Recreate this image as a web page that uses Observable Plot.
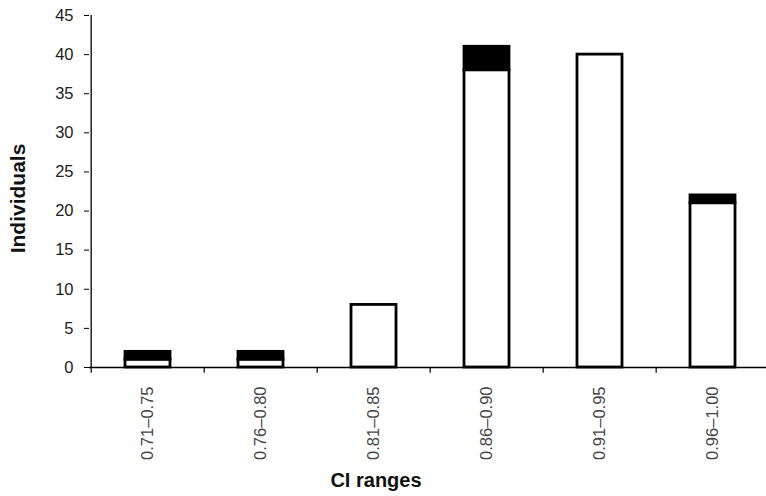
<!DOCTYPE html>
<html>
<head>
<meta charset="utf-8">
<script src="https://cdn.jsdelivr.net/npm/d3@7"></script>
<script src="https://cdn.jsdelivr.net/npm/@observablehq/plot@0.6"></script>
<style>
  html, body { margin: 0; padding: 0; background: #fff; overflow: hidden; }
  #chart { width: 766px; height: 496px; overflow: hidden; }
  svg { overflow: visible; font-family: "Liberation Sans", Arial, sans-serif; }
</style>
</head>
<body>
<div id="chart"></div>
<script>
const categories = ["0.71–0.75", "0.76–0.80", "0.81–0.85", "0.86–0.90", "0.91–0.95", "0.96–1.00"];
const whiteValues = [1, 1, 8, 38, 40, 21];
const blackValues = [1, 1, 0, 3, 0, 1];
const yTicks = [0, 5, 10, 15, 20, 25, 30, 35, 40, 45];
const xTitle = "CI ranges";
const yTitle = "Individuals";

const rows = [];
categories.forEach((c, i) => {
  if (whiteValues[i] > 0) rows.push({range: c, part: "white", value: whiteValues[i]});
  if (blackValues[i] > 0) rows.push({range: c, part: "black", value: blackValues[i]});
});

const left = 89, right = 771;
const bw = (right - left) / categories.length;

const chart = Plot.plot({
  width: 766,
  height: 496,
  marginLeft: left,
  marginRight: 0,
  marginTop: 15,
  marginBottom: 129,
  style: {fontFamily: "Liberation Sans, Arial, sans-serif", background: "white"},
  x: {domain: categories, range: [left, right], paddingInner: 0.6, paddingOuter: 0.3, align: 0.5},
  y: {domain: [0, 45]},
  color: {type: "identity"},
  marks: [
    Plot.barY(rows, {x: "range", y: "value", fill: "part", stroke: "black", strokeWidth: 2.8}),
    Plot.axisY({ticks: yTicks, tickSize: 5, tickPadding: 11, fontSize: 16.5, fill: "#222", label: null}),
    Plot.axisX({tickSize: 0, tickRotate: -90, tickPadding: 19, fontSize: 16.5, fill: "#444", label: null}),
    // y axis line
    Plot.ruleX([categories[0]], {dx: -bw / 2, y1: 0, y2: 45, stroke: "black", strokeWidth: 1.3}),
    // x axis line
    Plot.ruleY([0], {stroke: "black", strokeWidth: 1.3}),
    // boundary tick marks under x axis
    Plot.ruleX(categories, {dx: -bw / 2, y1: 0, y2: -0.75, stroke: "black", strokeWidth: 1.2}),
    Plot.text([xTitle], {frameAnchor: "bottom", dx: -52, dy: 119, fontSize: 20, fontWeight: "bold", fill: "#111"}),
    Plot.text([yTitle], {frameAnchor: "left", textAnchor: "middle", dx: -71, dy: 7, rotate: -90, fontSize: 21, fontWeight: "bold", fill: "#111"})
  ]
});
document.getElementById("chart").appendChild(chart);
</script>
</body>
</html>
